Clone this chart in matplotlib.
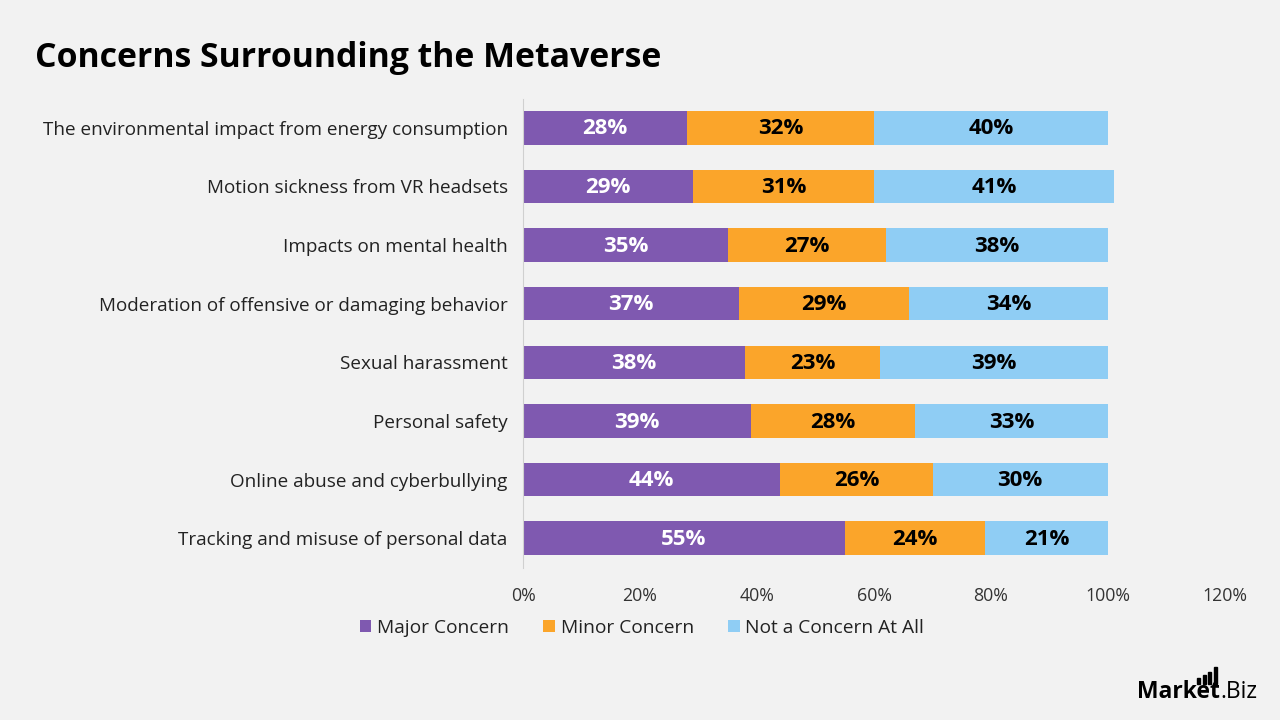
import matplotlib
matplotlib.use("Agg")
import matplotlib.pyplot as plt
from matplotlib.patches import Rectangle
from matplotlib.ticker import FuncFormatter

categories = [
    "The environmental impact from energy consumption",
    "Motion sickness from VR headsets",
    "Impacts on mental health",
    "Moderation of offensive or damaging behavior",
    "Sexual harassment",
    "Personal safety",
    "Online abuse and cyberbullying",
    "Tracking and misuse of personal data",
]
major = [28, 29, 35, 37, 38, 39, 44, 55]
minor = [32, 31, 27, 29, 23, 28, 26, 24]
not_concern = [40, 41, 38, 34, 39, 33, 30, 21]
series_names = ["Major Concern", "Minor Concern", "Not a Concern At All"]
colors = ["#7F59B0", "#FBA52A", "#8FCDF4"]
label_colors = ["white", "black", "black"]
xticks = [0, 20, 40, 60, 80, 100, 120]

FONT = "Open Sans"
plt.rcParams["font.family"] = [FONT, "DejaVu Sans"]

fig = plt.figure(figsize=(12.8, 7.2), dpi=100, facecolor="#F2F2F2")
ax = fig.add_axes([523/1280, 1-567.5/720, (1225-523)/1280, (567.5-98.5)/720])
ax.set_facecolor("#F2F2F2")

n = len(categories)
ypos = list(range(n))
left = [0]*n
for vals, name, col, lc in zip([major, minor, not_concern], series_names, colors, label_colors):
    bars = ax.barh(ypos, vals, left=left, height=0.57, color=col, label=name)
    for b, v in zip(bars, vals):
        ax.text(b.get_x()+b.get_width()/2, b.get_y()+b.get_height()/2 + 0.02, f"{v}%",
                ha="center", va="center", color=lc, fontsize=16, fontweight="bold")
    left = [l+v for l, v in zip(left, vals)]

ax.set_ylim(n-0.5, -0.5)
ax.set_xlim(0, 120)
ax.set_yticks(ypos)
ax.set_yticklabels(categories, fontsize=13.6, color="#222222")
ax.set_xticks(xticks)
ax.xaxis.set_major_formatter(FuncFormatter(lambda v, p: f"{v:.0f}%"))
ax.tick_params(axis="x", labelsize=12.8, colors="#333333", length=0, pad=14)
ax.tick_params(axis="y", length=0, pad=11)
for s in ["top", "right", "bottom"]:
    ax.spines[s].set_visible(False)
ax.spines["left"].set_color("#D0D0D0")

leg = fig.legend(loc="center", bbox_to_anchor=(642/1280, 1-628/720), ncol=3, frameon=False,
                 fontsize=13.8, handlelength=0.6, handleheight=0.6, handletextpad=0.3,
                 columnspacing=1.8)
for t in leg.get_texts():
    t.set_color("#222222")

fig.text(35/1280, 1-58/720, "Concerns Surrounding the Metaverse", fontsize=24.4,
         fontweight="bold", ha="left", va="center", color="black")

# logo
fig.text(1220/1280, 1-692/720, "Market", fontsize=16.5, fontweight="bold", ha="right", va="center")
fig.text(1220/1280, 1-692/720, ".Biz", fontsize=16.5, ha="left", va="center")
for i, h in enumerate([6, 9, 12, 17]):
    x0 = 1197 + i*5.5
    fig.patches.append(Rectangle((x0/1280, 1-(684)/720), 3/1280, h/720,
                                 transform=fig.transFigure, color="black"))

fig.savefig("out.png", dpi=100, facecolor=fig.get_facecolor())
